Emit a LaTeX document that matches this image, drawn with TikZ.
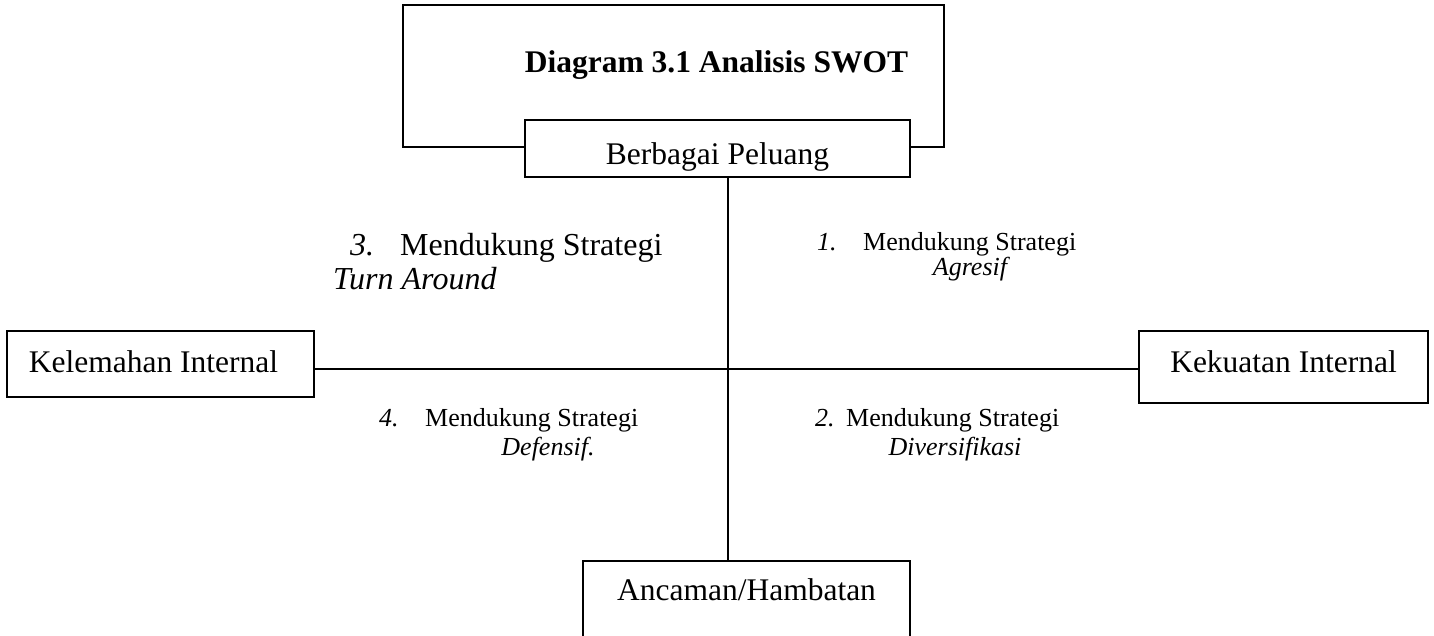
\documentclass[tikz,border=0pt]{standalone}
\usepackage{fontspec}
\setmainfont{Liberation Serif}
\begin{document}
\begin{tikzpicture}[x=1pt,y=-1pt,
  frame/.style={draw, line width=1.8pt, fill=white, inner sep=0pt},
  box/.style={frame, font=\fontsize{31.5}{36}\selectfont},
  lbl/.style={anchor=base west, inner sep=0pt, font=\fontsize{26}{30}\selectfont},
  ilbl/.style={lbl, font=\itshape\fontsize{26}{30}\selectfont},
  blbl/.style={anchor=base west, inner sep=0pt, font=\fontsize{32}{36}\selectfont},
  iblbl/.style={blbl, font=\itshape\fontsize{32}{36}\selectfont},
  conn/.style={line width=1.8pt}]
\useasboundingbox (0,0) rectangle (1434,636);
\begin{scope}
\clip (0,0) rectangle (1434,636);
% title frame
\node[frame, minimum width=541pt, minimum height=142pt] (titlebox) at (673.5,76) {};
\node[anchor=base, inner sep=0pt, font=\bfseries\fontsize{31.5}{36}\selectfont] (title) at (716.5,73) {Diagram 3.1 Analisis SWOT};
% boxes
\node[box, minimum width=385pt, minimum height=57pt, text height=33pt, text depth=0pt] (opp) at (717.5,148.5) {Berbagai Peluang};
\node[box, minimum width=307pt, minimum height=66pt, text height=16pt, text depth=0pt] (weak) at (160.5,364) {Kelemahan Internal\hspace*{14pt}};
\node[box, minimum width=289pt, minimum height=72pt, text height=10pt, text depth=0pt] (strong) at (1283.5,367) {Kekuatan Internal};
\node[box, minimum width=327pt, minimum height=90pt, text height=0pt, text depth=12pt] (threat) at (746.5,606) {Ancaman/Hambatan};
% axes
\coordinate (c) at (728,369);
\draw[conn] (c |- opp.south) -- (c |- threat.north);
\draw[conn] (c -| weak.east) -- (c -| strong.west);
\end{scope}
% quadrant labels
\node[iblbl] (n3) at (350,255) {3.};
\node[blbl] (s3) at (400,255) {Mendukung Strategi};
\node[iblbl] (t3) at (333,290) {Turn Around};
\node[ilbl] (n1) at (817,251) {1.};
\node[lbl] (s1) at (863,251) {Mendukung Strategi};
\node[ilbl, anchor=base] (t1) at (970,276) {Agresif};
\node[ilbl] (n4) at (379,426) {4.};
\node[lbl] (s4) at (425,426) {Mendukung Strategi};
\node[ilbl, anchor=base] (t4) at (548,455) {Defensif.};
\node[ilbl] (n2) at (815,426) {2.};
\node[lbl] (s2) at (846,426) {Mendukung Strategi};
\node[ilbl, anchor=base] (t2) at (955,455) {Diversifikasi};
\end{tikzpicture}
\end{document}
